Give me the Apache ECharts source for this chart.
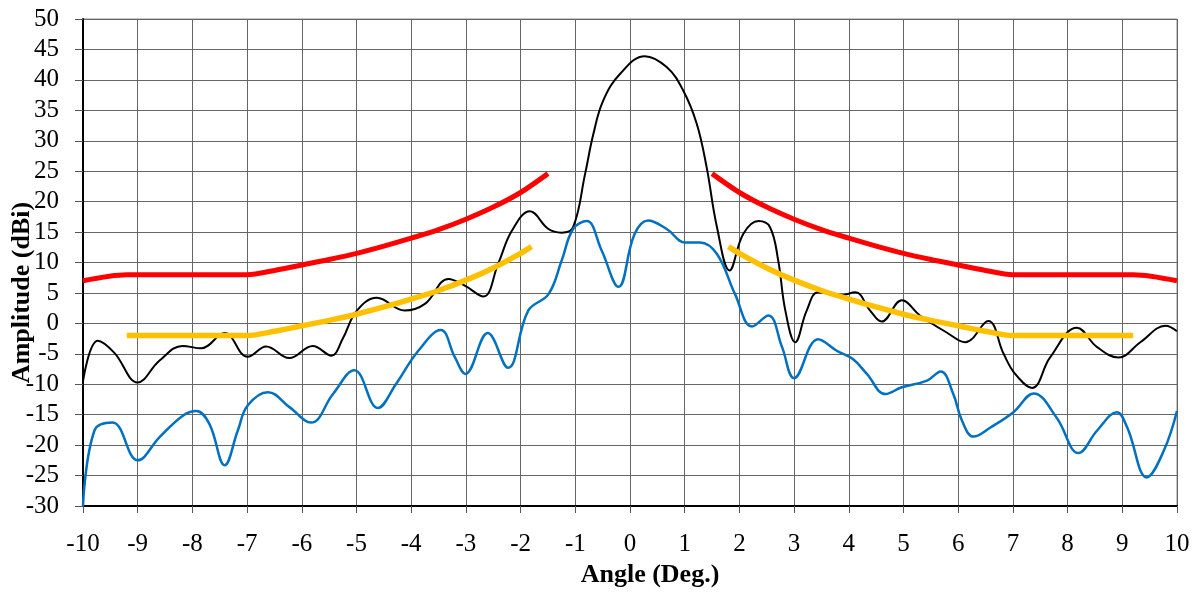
<!DOCTYPE html>
<html>
<head>
<meta charset="utf-8">
<script src="https://cdn.jsdelivr.net/npm/echarts@6/dist/echarts.min.js"></script>
<style>
html,body{margin:0;padding:0;background:#fff;}
#chart{width:1203px;height:593px;}
</style>
</head>
<body>
<div id="chart"></div>
<script>
// Measured pattern (black)
const measuredPattern = [
  [-10,-9.5],[-9.73,-2.85],[-9.43,-4.8],[-9.0,-9.7],[-8.6,-6.1],[-8.18,-3.7],[-7.84,-4.1],
  [-7.41,-1.6],[-6.99,-5.5],[-6.65,-3.8],[-6.23,-5.7],[-5.8,-3.7],[-5.46,-5.3],[-5.25,-2.5],
  [-5.0,2.0],[-4.63,4.2],[-4.12,2.1],[-3.75,3.2],[-3.32,7.3],[-3.02,6.2],[-2.68,4.4],
  [-2.41,9.8],[-2.16,15.2],[-1.83,18.4],[-1.49,15.5],[-1.25,14.9],[-1.04,15.8],[-0.82,24.6],
  [-0.67,31.1],[-0.49,36.6],[-0.18,41.0],[0.27,43.9],[0.67,42.1],[0.97,38.3],[1.22,32.8],
  [1.40,25.7],[1.59,15.8],[1.82,8.7],[2.07,14.7],[2.35,16.8],[2.56,15.8],[2.71,10.3],
  [2.84,2.1],[3.02,-3.1],[3.23,2.1],[3.44,5.1],[3.84,4.6],[4.12,5.1],[4.39,2.1],[4.6,0.3],
  [4.97,3.8],[5.3,1.3],[5.79,-1.5],[6.13,-3.1],[6.55,0.4],[6.83,-5.0],[7.04,-8.3],
  [7.35,-10.6],[7.68,-5.6],[8.17,-0.7],[8.54,-3.9],[8.93,-5.6],[9.33,-3.1],[9.79,-0.4],[10,-1.3]
];
// Cross-pol pattern (blue)
const crossPattern = [
  [-10,-30],[-9.79,-17.6],[-9.46,-16.3],[-9.0,-22.5],[-8.6,-18.7],[-8.18,-15.2],[-7.93,-14.4],
  [-7.69,-16.5],[-7.41,-23.3],[-7.17,-17.6],[-6.99,-13.5],[-6.62,-11.3],[-6.22,-13.8],
  [-5.83,-16.3],[-5.43,-11.6],[-5.04,-7.7],[-4.61,-13.9],[-4.28,-10],[-3.87,-4.5],[-3.46,-1.1],
  [-3.2,-5.6],[-3.01,-8.3],[-2.6,-1.6],[-2.23,-7.3],[-1.86,2.1],[-1.49,4.8],[-1.25,10.3],
  [-1.04,15.5],[-0.79,16.8],[-0.52,12.0],[-0.21,6.0],[0.08,14.6],[0.33,16.9],[0.67,15.5],
  [1.01,13.3],[1.28,13.3],[1.59,11.4],[1.92,4.8],[2.23,-0.5],[2.53,1.3],[2.78,-3.9],[3.0,-9.0],
  [3.44,-2.6],[3.78,-4.5],[4.08,-5.9],[4.33,-8.3],[4.67,-11.6],[4.97,-10.5],[5.43,-9.4],
  [5.68,-7.9],[5.91,-11.6],[6.07,-16.0],[6.28,-18.6],[6.59,-17.1],[7.01,-14.6],[7.38,-11.5],
  [7.8,-15.5],[8.2,-21.3],[8.54,-17.6],[8.9,-14.6],[9.09,-17.1],[9.45,-25.3],[9.76,-20.9],[10,-14.4]
];
// Red envelope
const redLeft = [
  [-10,7],[-9.2,8],[-7,8],[-6.5,8.7],[-6,9.6],[-5.5,10.5],[-5,11.5],[-4.5,12.7],[-4,14],
  [-3.5,15.4],[-3,17.1],[-2.5,19.1],[-2,21.5],[-1.5,24.6]
];
const redRight = [
  [1.5,24.6],[2,21.5],[2.5,19.1],[3,17.1],[3.5,15.4],[4,14],[4.5,12.7],[5,11.5],[5.5,10.5],
  [6,9.6],[6.5,8.7],[7,8],[9.2,8],[10,7]
];
// Orange envelope
const orangeLeft = [
  [-9.2,-2],[-7,-2],[-6.5,-1.3],[-6,-0.4],[-5.5,0.5],[-5,1.5],[-4.5,2.7],[-4,4],[-3.5,5.4],
  [-3,7.1],[-2.5,9.1],[-2,11.5],[-1.8,12.6]
];
const orangeRight = [
  [1.8,12.6],[2,11.5],[2.5,9.1],[3,7.1],[3.5,5.4],[4,4],[4.5,2.7],[5,1.5],[5.5,0.5],[6,-0.4],
  [6.5,-1.3],[7,-2],[9.2,-2]
];
const xTitle = 'Angle (Deg.)';
const yTitle = 'Amplitude (dBi)';

const chart = echarts.init(document.getElementById('chart'), null, {renderer:'canvas'});
const font = '"Liberation Serif", "Times New Roman", serif';
function line(data, color, width, smooth){
  return {type:'line', data:data, showSymbol:false, symbol:'none', smooth:smooth,
    lineStyle:{color:color, width:width}, itemStyle:{color:color}, silent:true, animation:false};
}
chart.setOption({
  animation:false,
  backgroundColor:'#fff',
  grid:{left:83, right:26, top:19, bottom:87, containLabel:false, outerBoundsMode:'none',
    show:true, borderColor:'#8c8c8c', borderWidth:1},
  xAxis:{
    type:'value', min:-10, max:10, interval:1,
    name:xTitle, nameLocation:'middle', nameGap:55,
    nameTextStyle:{fontFamily:font, fontWeight:'bold', fontSize:26, color:'#000', padding:[0,0,0,40]},
    axisLine:{show:true, onZero:false, lineStyle:{color:'#000', width:2}},
    axisTick:{show:true, length:7, lineStyle:{color:'#555'}},
    axisLabel:{fontFamily:font, fontSize:25, color:'#000', margin:26},
    splitLine:{show:true, lineStyle:{color:'#666', width:1}}
  },
  yAxis:{
    type:'value', min:-30, max:50, interval:5,
    name:yTitle, nameLocation:'middle', nameGap:48, nameMoveOverlap:false,
    nameTextStyle:{fontFamily:font, fontWeight:'bold', fontSize:26, color:'#000', padding:[0,60,0,0]},
    axisLine:{show:true, onZero:false, lineStyle:{color:'#000', width:2}},
    axisTick:{show:true, length:8, lineStyle:{color:'#555'}},
    axisLabel:{fontFamily:font, fontSize:25, color:'#000', margin:24},
    splitLine:{show:true, lineStyle:{color:'#666', width:1}}
  },
  series:[
    line(measuredPattern, '#000000', 2, 0.4),
    line(crossPattern, '#0070C0', 2.5, 0.4),
    line(redLeft, '#FF0000', 5, 0.3),
    line(redRight, '#FF0000', 5, 0.3),
    line(orangeLeft, '#FFC000', 5.5, 0.3),
    line(orangeRight, '#FFC000', 5.5, 0.3)
  ]
});
</script>
</body>
</html>
